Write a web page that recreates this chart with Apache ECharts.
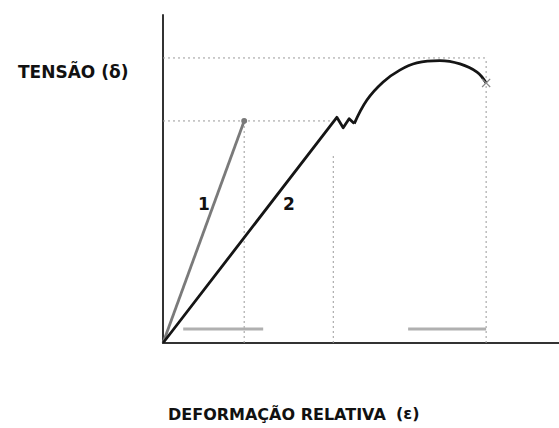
<!DOCTYPE html>
<html>
<head>
<meta charset="utf-8">
<script src="https://cdn.jsdelivr.net/npm/echarts@6/dist/echarts.min.js"></script>
<style>
  html, body { margin: 0; padding: 0; background: #fff; }
  #chart { width: 559px; height: 428px; }
</style>
</head>
<body>
<div id="chart"></div>
<script>
// Stress–strain curves: material 1 (brittle) and material 2 (ductile).
// Strain and stress in arbitrary units.
const brittleStrain = [0, 20.5];
const brittleStress = [0, 67.7];

// elastic part and yield serrations of material 2
const ductileElasticStrain = [0, 43.9, 45.5, 47.0, 48.3];
const ductileElasticStress = [0, 68.8, 65.6, 68.4, 66.9];

// strain hardening, necking and fracture of material 2
const ductilePlasticStrain = [48.3, 51.5, 55.6, 59.8, 64.1, 69.9, 75.0, 79.3, 81.6];
const ductilePlasticStress = [66.9, 74.1, 79.6, 83.2, 85.4, 86.1, 85.1, 82.6, 79.3];

// reference levels and elongation marks
const yieldLevel = 67.7;
const ultimateLevel = 86.9;
const brittleFracture = 20.5;
const yieldEndStrain = 43.0;
const ductileFracture = 81.6;
const elongationBars = [[5.1, 25.3], [61.9, 81.6]];
const elongationLevel = 4.3;

const yTitle = 'TENSÃO (δ)';
const xTitle = 'DEFORMAÇÃO RELATIVA';
const xSymbol = '(ε)';
const curveLabels = ['1', '2'];

const pairs = (xs, ys) => xs.map((x, i) => [x, ys[i]]);

const dotted = { color: '#9a9a9a', width: 1, type: [2, 3] };
const guide = (data) => ({
  type: 'line', data, symbol: 'none', silent: true,
  lineStyle: dotted, z: 1
});

const series = [
  guide([[0, ultimateLevel], [ductileFracture, ultimateLevel]]),
  guide([[0, yieldLevel], [yieldEndStrain, yieldLevel]]),
  guide([[brittleFracture, 0], [brittleFracture, yieldLevel]]),
  guide([[yieldEndStrain, 0], [yieldEndStrain, 57]]),
  guide([[ductileFracture, 0], [ductileFracture, ultimateLevel]]),
  ...elongationBars.map(b => ({
    type: 'line', data: [[b[0], elongationLevel], [b[1], elongationLevel]],
    symbol: 'none', lineStyle: { color: '#b0b0b0', width: 3 }, z: 2
  })),
  {
    type: 'line', data: pairs(brittleStrain, brittleStress),
    symbol: (v, p) => p.dataIndex === brittleStrain.length - 1 ? 'circle' : 'none',
    symbolSize: 6, itemStyle: { color: '#7a7a7a' },
    lineStyle: { color: '#7a7a7a', width: 2.8 }, z: 5
  },
  {
    type: 'line', data: pairs(ductileElasticStrain, ductileElasticStress),
    symbol: 'none', lineStyle: { color: '#151515', width: 2.8, join: 'round' }, z: 5
  },
  {
    type: 'line', data: pairs(ductilePlasticStrain, ductilePlasticStress),
    smooth: 0.4,
    symbol: (v, p) => p.dataIndex === ductilePlasticStrain.length - 1
      ? 'path://M0,1L1,0L5,4L9,0L10,1L6,5L10,9L9,10L5,6L1,10L0,9L4,5Z' : 'none',
    symbolSize: 9, itemStyle: { color: '#888' },
    lineStyle: { color: '#151515', width: 2.8 }, z: 5
  }
];

const titleFont = 'bold 16px "DejaVu Sans"';

const chart = echarts.init(document.getElementById('chart'), null, { renderer: 'svg' });
chart.setOption({
  animation: false,
  backgroundColor: '#fff',
  grid: { left: 163, top: 15, right: 0, bottom: 85 },
  xAxis: {
    type: 'value', min: 0, max: 100,
    axisLine: { onZero: false, lineStyle: { color: '#333', width: 2 } },
    axisTick: { show: false }, axisLabel: { show: false }, splitLine: { show: false }
  },
  yAxis: {
    type: 'value', min: 0, max: 100,
    axisLine: { show: true, onZero: false, lineStyle: { color: '#333', width: 2 } },
    axisTick: { show: false }, axisLabel: { show: false }, splitLine: { show: false }
  },
  series,
  graphic: [
    { type: 'text', left: 18, top: 63,
      style: { text: yTitle, font: 'bold 17px "DejaVu Sans"', fill: '#111' } },
    { type: 'text', left: 168, top: 406,
      style: { text: xTitle, font: titleFont, fill: '#111' } },
    { type: 'text', left: 396, top: 405,
      style: { text: xSymbol, font: titleFont, fill: '#111' } },
    { type: 'text', left: 198, top: 195,
      style: { text: curveLabels[0], font: 'bold 17px "DejaVu Sans"', fill: '#111' } },
    { type: 'text', left: 283, top: 195,
      style: { text: curveLabels[1], font: 'bold 17px "DejaVu Sans"', fill: '#111' } }
  ]
});
</script>
</body>
</html>
